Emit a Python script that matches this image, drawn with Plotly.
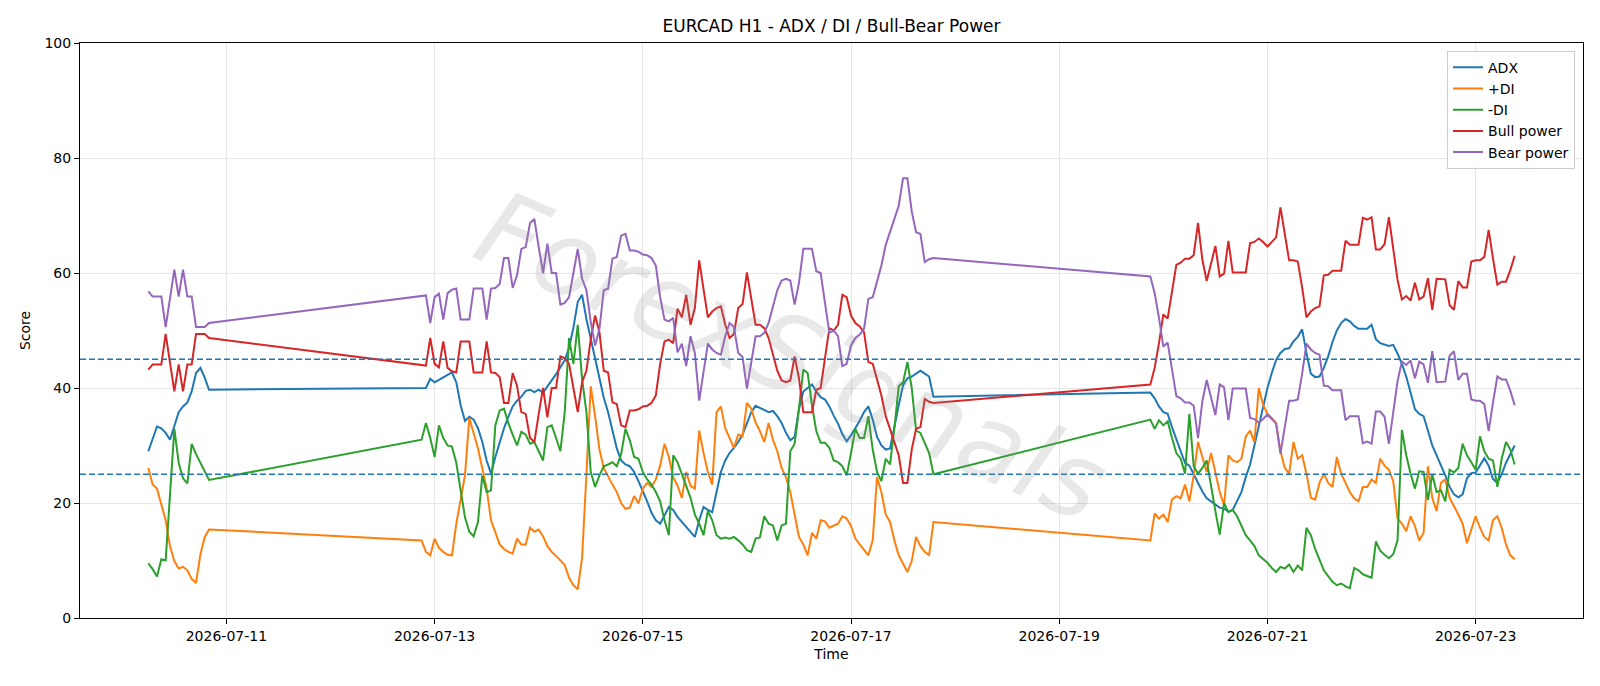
import pandas as pd
import plotly.graph_objects as go

# ---------------- data (hourly H1 bars, three trading segments) ----------------
seg_starts = ["2026-07-10 06:00", "2026-07-12 21:00", "2026-07-19 21:00"]

fri_adx = [29.0, 31.2, 33.3, 33.0, 32.2, 31.0, 33.5, 35.8, 36.8, 37.5, 39.4, 42.6, 43.5, 41.8, 39.7]
fri_pdi = [26.1, 23.2, 22.5, 19.6, 17.0, 12.5, 9.9, 8.6, 8.9, 8.3, 6.8, 6.1, 11.0, 14.1, 15.4]
fri_mdi = [9.5, 8.5, 7.2, 10.2, 10.0, 21.5, 32.9, 27.0, 24.3, 23.4, 30.3, 28.5, 27.0, 25.5, 24.0]
fri_bull = [43.2, 44.1, 44.1, 44.1, 49.4, 44.4, 39.4, 44.1, 39.4, 44.1, 44.1, 49.4, 49.4, 49.4, 48.7]
fri_bear = [56.8, 55.9, 55.9, 55.9, 50.6, 55.6, 60.6, 55.9, 60.6, 55.9, 55.9, 50.6, 50.6, 50.6, 51.3]

w1_adx = [40.0, 40.0, 41.6, 41.0, 41.4, 41.9, 42.3, 42.7, 41.0, 37.0,
          34.3, 35.0, 34.5, 33.0, 30.6, 27.4, 25.1, 28.0, 30.5, 33.0,
          35.0, 36.8, 37.8, 38.5, 39.5, 39.7, 39.3, 39.7, 39.2, 40.2,
          41.4, 42.4, 43.6, 44.8, 47.0, 50.5, 55.0, 56.2, 52.0, 48.5,
          45.5, 42.0, 38.3, 35.8, 32.5, 29.5, 27.4, 26.7, 26.4, 25.4,
          23.8, 22.2, 20.3, 18.3, 17.0, 16.4, 17.8, 19.3, 18.8, 17.6,
          16.7, 15.8, 15.0, 14.1, 17.0, 19.3, 18.8, 18.4, 21.9, 25.4,
          27.4, 28.7, 29.6, 30.6, 31.9, 33.9, 35.8, 36.9, 36.5, 36.1,
          35.8, 36.0, 35.1, 33.9, 32.2, 30.9, 31.5, 36.4, 39.4, 40.0,
          40.6, 39.4, 38.4, 38.0, 36.8, 35.2, 33.8, 32.0, 30.7, 31.8,
          33.0, 34.3, 35.8, 36.8, 34.5, 31.5, 30.0, 29.3, 29.5, 33.5,
          37.0, 40.5, 41.7, 42.0, 42.5, 43.0, 42.5, 42.0, 38.5]
w1_pdi = [13.5, 11.5, 10.9, 13.8, 12.2, 11.5, 11.0, 10.9, 16.4, 20.3,
          24.8, 34.8, 31.9, 29.5, 26.0, 22.5, 17.0, 15.0, 12.8, 12.0,
          11.5, 11.2, 13.8, 12.8, 12.8, 15.7, 15.0, 15.4, 14.2, 12.5,
          11.5, 10.8, 10.0, 9.2, 7.0, 5.7, 5.0, 10.5, 25.0, 40.3,
          35.1, 29.3, 26.1, 24.5, 23.2, 21.9, 20.0, 19.0, 19.2, 21.2,
          19.9, 22.5, 23.5, 22.8, 24.1, 26.5, 30.3, 28.0, 24.5, 23.0,
          20.9, 25.4, 23.0, 22.5, 32.6, 28.7, 25.4, 23.2, 35.8, 36.8,
          33.0, 31.3, 29.6, 31.9, 31.6, 37.4, 36.4, 34.0, 32.5, 30.6,
          33.9, 31.0, 29.0, 26.1, 24.5, 21.9, 18.0, 14.1, 12.8, 10.9,
          14.8, 13.8, 17.0, 16.8, 15.7, 16.1, 16.4, 17.7, 17.3, 16.0,
          13.8, 12.8, 11.8, 10.9, 13.5, 24.5, 21.9, 18.0, 16.7, 13.5,
          10.9, 9.3, 8.0, 9.9, 14.1, 12.5, 11.5, 10.9, 16.7]
w1_mdi = [31.0, 33.9, 31.3, 28.0, 33.5, 31.3, 30.0, 29.8, 27.0, 22.0,
          17.5, 15.0, 14.2, 16.7, 24.8, 21.9, 22.2, 33.5, 36.1, 36.4,
          33.9, 31.9, 30.0, 32.4, 31.9, 30.3, 30.6, 29.0, 27.4, 33.2,
          33.5, 31.3, 29.0, 35.8, 48.7, 44.2, 51.0, 41.6, 35.8, 25.4,
          22.8, 24.8, 26.4, 26.7, 27.1, 26.4, 28.5, 32.9, 30.9, 28.0,
          27.7, 25.4, 24.1, 23.2, 21.9, 20.3, 17.0, 14.4, 28.3, 27.1,
          25.1, 23.2, 20.9, 18.0, 16.4, 14.4, 18.6, 17.0, 14.4, 13.8,
          14.0, 13.8, 14.1, 13.5, 12.8, 11.8, 11.5, 13.8, 14.0, 17.7,
          16.4, 16.1, 13.5, 16.1, 16.4, 29.0, 30.3, 36.4, 43.2, 42.6,
          37.0, 32.5, 30.5, 30.5, 29.6, 27.4, 27.1, 26.4, 24.8, 28.7,
          32.9, 31.3, 31.3, 35.1, 29.3, 25.4, 23.8, 27.7, 26.7, 33.0,
          40.3, 41.0, 44.5, 40.0, 32.6, 32.2, 30.6, 28.7, 25.0]
w1_bull = [44.1, 43.9, 48.7, 44.2, 43.6, 48.1, 43.5, 42.9, 42.7, 48.1,
           48.1, 48.1, 42.7, 42.7, 42.7, 48.1, 42.7, 42.6, 41.9, 37.4,
           37.4, 42.6, 40.4, 35.8, 35.5, 31.3, 30.6, 35.5, 40.0, 34.9,
           40.0, 40.0, 45.5, 45.2, 44.2, 40.0, 35.8, 41.0, 43.0, 48.5,
           52.6, 49.7, 43.0, 42.7, 37.5, 37.2, 33.5, 33.2, 36.1, 36.1,
           36.3, 36.8, 36.9, 37.4, 38.7, 44.2, 48.1, 48.4, 47.8, 53.8,
           52.3, 56.2, 51.0, 53.9, 62.2, 57.2, 52.3, 53.3, 53.9, 54.2,
           51.0, 48.7, 49.4, 53.9, 54.6, 60.1, 55.2, 51.0, 51.0, 50.4,
           48.7, 45.8, 43.0, 41.3, 41.0, 41.3, 45.5, 41.7, 35.8, 35.8,
           35.8, 39.7, 40.0, 45.2, 50.4, 50.0, 51.0, 56.2, 55.8, 52.6,
           51.3, 50.7, 49.7, 44.5, 44.2, 41.5, 38.7, 35.1, 32.9, 30.3,
           28.3, 23.5, 23.5, 29.3, 32.9, 33.2, 38.1, 37.6, 37.4]
w1_bear = [55.9, 56.1, 51.3, 55.8, 56.4, 51.9, 56.5, 57.1, 57.3, 51.9,
           51.9, 51.9, 57.3, 57.3, 57.3, 51.9, 57.3, 57.4, 58.1, 62.6,
           62.6, 57.4, 59.6, 64.2, 64.5, 68.7, 69.4, 64.5, 60.0, 65.1,
           60.0, 60.0, 54.5, 54.8, 55.8, 60.0, 64.2, 59.0, 57.0, 51.5,
           47.4, 50.3, 57.0, 57.3, 62.5, 62.8, 66.5, 66.8, 63.9, 63.9,
           63.7, 63.2, 63.1, 62.6, 61.3, 55.8, 51.9, 51.6, 52.2, 46.2,
           47.7, 43.8, 49.0, 46.1, 37.8, 42.8, 47.7, 46.7, 46.1, 45.8,
           49.0, 51.3, 50.6, 46.1, 45.4, 39.9, 44.8, 49.0, 49.0, 49.6,
           51.3, 54.2, 57.0, 58.7, 59.0, 58.7, 54.5, 58.3, 64.2, 64.2,
           64.2, 60.3, 60.0, 54.8, 49.6, 50.0, 49.0, 43.8, 44.2, 47.4,
           48.7, 49.3, 50.3, 55.5, 55.8, 58.5, 61.3, 64.9, 67.1, 69.7,
           71.7, 76.5, 76.5, 70.7, 67.1, 66.8, 61.9, 62.4, 62.6]

w2_adx = [39.2, 38.2, 36.8, 35.8, 35.5, 33.2, 30.9, 29.0, 27.0, 26.5,
          25.0, 23.5, 22.0, 20.8, 20.3, 19.8, 19.2, 19.0, 18.5, 18.8,
          20.3, 21.9, 24.5, 26.7, 30.0, 33.2, 36.4, 40.0, 42.6, 44.9,
          46.1, 46.8, 46.9, 48.1, 48.9, 50.2, 46.1, 42.5, 41.9, 42.0,
          43.5, 45.5, 48.0, 50.0, 51.3, 52.0, 51.6, 50.8, 50.3, 50.3,
          50.3, 51.0, 48.5, 47.8, 47.5, 47.3, 47.5, 46.0, 44.2, 42.0,
          39.2, 36.3, 35.5, 35.1, 32.6, 30.0, 28.3, 26.7, 24.8, 22.8,
          21.5, 21.0, 21.5, 24.3, 25.2, 25.3, 26.5, 27.8, 26.5, 24.2,
          23.5, 25.0, 27.0, 28.5, 30.0]
w2_pdi = [13.5, 18.2, 17.3, 18.0, 16.7, 20.6, 21.2, 20.8, 23.2, 20.3,
          24.8, 30.6, 28.0, 25.4, 28.7, 25.1, 21.9, 19.6, 28.3, 27.4,
          27.1, 27.7, 31.6, 32.6, 30.6, 40.0, 37.1, 35.5, 34.8, 33.9,
          29.0, 26.1, 25.1, 30.6, 27.7, 28.3, 25.1, 20.9, 20.6, 23.5,
          25.1, 23.5, 22.8, 28.0, 25.1, 23.5, 21.9, 20.8, 20.3, 22.8,
          22.8, 24.1, 23.5, 27.7, 26.5, 25.8, 23.8, 17.3, 16.4, 15.1,
          17.7, 16.0, 13.5, 14.8, 26.4, 20.9, 18.6, 23.5, 24.1, 20.9,
          19.5, 18.0, 16.4, 13.0, 15.4, 17.7, 15.7, 14.1, 13.5, 17.0,
          17.7, 15.7, 12.8, 10.9, 10.2]
w2_mdi = [34.5, 32.9, 34.4, 33.5, 34.2, 31.3, 28.7, 27.7, 25.1, 35.5,
          26.4, 25.1, 26.1, 27.4, 22.8, 18.6, 14.5, 20.0, 18.4, 18.8,
          17.7, 16.1, 14.4, 13.5, 12.5, 10.9, 10.2, 9.6, 8.7, 8.0,
          8.9, 8.6, 9.3, 8.0, 9.1, 8.3, 15.7, 14.4, 12.0, 10.0,
          8.3, 7.3, 6.3, 5.7, 6.0, 5.5, 5.2, 8.7, 8.3, 7.6,
          7.3, 7.0, 13.3, 11.7, 11.0, 10.4, 11.1, 13.5, 32.7, 28.3,
          25.1, 22.5, 25.5, 25.4, 20.5, 25.0, 21.9, 22.2, 20.3, 25.8,
          25.3, 26.1, 30.3, 28.3, 27.1, 25.8, 31.6, 29.0, 27.7, 27.4,
          22.8, 27.7, 30.6, 29.3, 26.7]
w2_bull = [40.6, 43.5, 47.8, 52.8, 52.1, 57.2, 61.4, 61.8, 62.5, 62.5,
           63.1, 68.7, 62.3, 58.6, 61.7, 64.7, 59.4, 59.9, 65.6, 60.1,
           60.1, 60.1, 60.1, 65.2, 65.4, 66.0, 65.4, 64.6, 65.4, 66.2,
           71.4, 66.9, 62.2, 62.2, 62.0, 57.5, 52.3, 53.3, 53.9, 54.2,
           59.6, 59.7, 60.4, 60.4, 60.4, 65.6, 64.9, 64.9, 64.9, 69.6,
           69.3, 69.7, 64.1, 64.1, 65.0, 69.7, 64.1, 58.8, 55.4, 56.0,
           55.2, 58.3, 55.4, 55.9, 59.1, 53.6, 59.0, 58.9, 58.9, 54.4,
           53.6, 58.6, 57.5, 57.5, 62.0, 62.2, 62.2, 62.8, 67.5, 62.5,
           58.0, 58.5, 58.5, 60.5, 63.0]
w2_bear = [59.4, 56.5, 52.2, 47.2, 47.9, 42.8, 38.6, 38.2, 37.5, 37.5,
           36.9, 31.3, 37.7, 41.4, 38.3, 35.3, 40.6, 40.1, 34.4, 39.9,
           39.9, 39.9, 39.9, 34.8, 34.6, 34.0, 34.6, 35.4, 34.6, 33.8,
           28.6, 33.1, 37.8, 37.8, 38.0, 42.5, 47.7, 46.7, 46.1, 45.8,
           40.4, 40.3, 39.6, 39.6, 39.6, 34.4, 35.1, 35.1, 35.1, 30.4,
           30.7, 30.3, 35.9, 35.9, 35.0, 30.3, 35.9, 41.2, 44.6, 44.0,
           44.8, 41.7, 44.6, 44.1, 40.9, 46.4, 41.0, 41.1, 41.1, 45.6,
           46.4, 41.4, 42.5, 42.5, 38.0, 37.8, 37.8, 37.2, 32.5, 37.5,
           42.0, 41.5, 41.5, 39.5, 37.0]

series_names = ["ADX", "+DI", "-DI", "Bull power", "Bear power"]
series_colors = ["#1f77b4", "#ff7f0e", "#2ca02c", "#d62728", "#9467bd"]
threshold_levels = [45, 25]
x_tick_dates = ["2026-07-11", "2026-07-13", "2026-07-15", "2026-07-17",
                "2026-07-19", "2026-07-21", "2026-07-23"]
y_ticks = [0, 20, 40, 60, 80, 100]
watermark_text = "ForexSignals"

segments = [
    [fri_adx, fri_pdi, fri_mdi, fri_bull, fri_bear],
    [w1_adx, w1_pdi, w1_mdi, w1_bull, w1_bear],
    [w2_adx, w2_pdi, w2_mdi, w2_bull, w2_bear],
]

# ---------------- build ----------------
times = []
for start, seg in zip(seg_starts, segments):
    times.extend(pd.date_range(start, periods=len(seg[0]), freq="h"))

fig = go.Figure()
for k, (name, color) in enumerate(zip(series_names, series_colors)):
    ys = []
    for seg in segments:
        ys.extend(seg[k])
    fig.add_trace(go.Scatter(x=times, y=ys, mode="lines", name=name,
                             line=dict(color=color, width=2)))

for lvl in threshold_levels:
    fig.add_hline(y=lvl, line=dict(color="#1f77b4", width=1.3, dash="6px,3px"))

t0, t1 = times[0], times[-1]
pad = (t1 - t0) * 0.05
xr = [t0 - pad, t1 + pad]

font_family = "DejaVu Sans, Arial, sans-serif"
axis_common = dict(showline=True, linecolor="black", linewidth=1, mirror=True,
                   ticks="outside", ticklen=5, tickwidth=1, tickcolor="black",
                   showgrid=True, gridcolor="#e6e6e6", gridwidth=1,
                   zeroline=False, tickfont=dict(size=14, color="black"))

fig.update_layout(
    width=1600, height=686,
    margin=dict(l=80, r=17, t=43, b=68),
    paper_bgcolor="white", plot_bgcolor="white",
    font=dict(family=font_family, color="black", size=14),
    title=dict(text="EURCAD H1 - ADX / DI / Bull-Bear Power", x=0.5, xref="paper",
               y=1 - 26 / 686, yref="container", yanchor="middle",
               font=dict(size=17, color="black")),
    xaxis=dict(type="date", range=xr, tickvals=pd.to_datetime(x_tick_dates),
               ticktext=x_tick_dates,
               title=dict(text="Time", standoff=6, font=dict(size=14)),
               **axis_common),
    yaxis=dict(range=[0, 100], tickvals=y_ticks,
               title=dict(text="Score", standoff=10, font=dict(size=14)),
               **axis_common),
    legend=dict(x=0.9947, xanchor="right", y=0.9866, yanchor="top",
                bgcolor="rgba(255,255,255,0.8)", bordercolor="#cccccc", borderwidth=1,
                font=dict(size=14)),
    showlegend=True,
)

fig.add_annotation(text=watermark_text, xref="paper", yref="paper", x=0.474, y=0.454,
                   showarrow=False, textangle=23.5,
                   font=dict(size=105, color="rgba(140,140,140,0.2)",
                             family="DejaVu Sans, sans-serif", style="italic"))

fig.write_html("out.html")
